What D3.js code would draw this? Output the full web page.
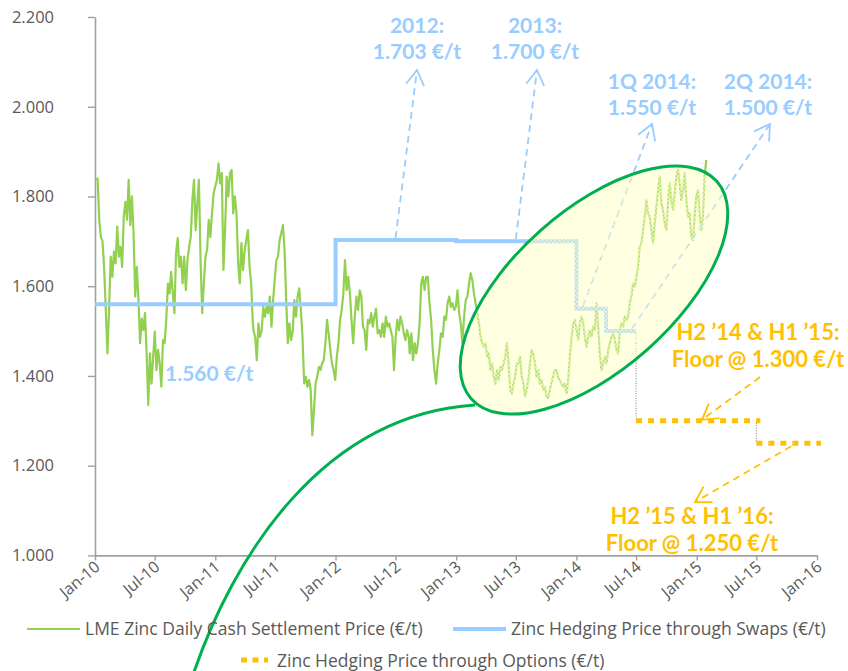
<!DOCTYPE html>
<html>
<head>
<meta charset="utf-8">
<script src="https://cdn.jsdelivr.net/npm/d3@7"></script>
<style>
  body { margin: 0; background: #fff; }
  svg { display: block; font-family: "Open Sans", "Noto Sans", sans-serif; }
</style>
</head>
<body>
<svg id="chart" width="848" height="671"></svg>
<script>
// ---- LME zinc daily cash settlement price (€/t), in four consecutive stretches ----
const lmeStretchA = [1837,1840,1748,1710,1700,1640,1547,1450,1547,1666,1621,1677,1651,1733,1666,1688,1643,1755,1788,1748,
  1837,1736,1800,1718,1577,1643,1569,1473,1528,1502,1540,1450,1335,1450,1383,1443,1499,1413,1458,1428,
  1376,1480,1473,1525,1606,1584,1632,1584,1540,1673,1707,1643,1666,1606,1666,1591,1658,1688,1710,1792,
  1837,1725,1785,1837,1658,1540,1606,1666,1681,1748,1710,1762,1807,1822,1837,1874,1829,1852,1636,1725,
  1844,1800,1852,1859,1762,1800,1762,1651,1606,1696,1636,1681,1703,1725,1643,1606,1517];
const lmeStretchB = [1502,1487,1435,1517,1487,1502,1554,1532,1554,1540,1577,1510,1569,1614,1658,1666,1703,1718,1736,1681,
  1569,1473,1517,1480,1499,1569,1532,1577,1595,1547,1487,1383,1398,1376,1391,1369,1268,1324,1383,1398,
  1420,1413,1428,1435,1473,1525,1495,1458,1428,1413,1391,1443,1473,1525,1547,1584,1658,1591,1621,1584,
  1525,1473,1532,1577,1547,1591,1577,1510,1502,1458,1525,1517,1540,1510,1532,1550,1495,1502,1487,1517,
  1487,1532,1510,1517,1502,1487,1413,1487,1525,1502,1532,1517,1495,1480,1502,1487];
const lmeStretchC = [1450,1495,1435,1473,1450,1473,1517,1606,1621,1591,1621,1621,1562,1525,1458,1413,1383,1428,1458,1495,
  1487,1532,1525,1562,1577,1554,1562,1547,1554,1591,1540,1517,1473,1532,1569,1577,1606,1629,1614,1584,
  1562,1540,1517,1487,1473,1465,1473,1443,1450,1413,1428,1398,1383,1413,1391,1420,1413,1428,1443,1473,
  1428,1369,1361,1383,1398,1428,1428,1443,1398,1383,1354,1369,1391,1428,1458,1450,1428,1398,1413,1383,
  1391,1369,1376,1354,1350,1369,1383,1398,1413,1413,1398,1391,1383,1376,1383];
const lmeStretchD = [1361,1391,1443,1487,1517,1525,1502,1480,1517,1532,1517,1487,1465,1487,1502,1487,1510,1502,1562,1510,
  1450,1413,1428,1443,1428,1458,1473,1487,1495,1480,1458,1450,1502,1517,1510,1532,1525,1532,1562,1577,
  1606,1599,1621,1643,1688,1696,1725,1755,1792,1762,1755,1725,1696,1740,1777,1814,1844,1785,1770,1740,
  1725,1785,1829,1792,1770,1807,1844,1859,1829,1792,1814,1852,1792,1755,1762,1710,1703,1755,1800,1814,
  1762,1725,1755,1844,1881];
// first and last settlement date of each stretch (readings are evenly spaced in between)
const lmeStretchSpans = [["2010-01-04","2011-04-25"],["2011-04-27","2012-08-10"],["2012-08-13","2013-11-26"],["2013-12-02","2015-01-30"]];

// ---- hedging through swaps: price fixed from each date until the next ----
const swapDates  = ["2010-01-01","2012-01-01","2013-01-01","2014-01-01","2014-04-01","2014-07-01"];
const swapPrices = [1560, 1703, 1700, 1550, 1500];

// ---- hedging through options: floor price per period ----
const optionDates  = ["2014-07-01","2015-07-01","2016-01-01"];
const optionFloors = [1300, 1250];

// ---- axes ----
const yTicks = [1000, 1200, 1400, 1600, 1800, 2000, 2200];
const xTickDates = ["2010-01-01","2010-07-01","2011-01-01","2011-07-01","2012-01-01","2012-07-01","2013-01-01",
  "2013-07-01","2014-01-01","2014-07-01","2015-01-01","2015-07-01","2016-01-01"];

const legendLabels = ["LME Zinc Daily Cash Settlement Price (€/t)", "Zinc Hedging Price through Swaps (€/t)",
  "Zinc Hedging Price through Options (€/t)"];

// ---------------------------------------------------------------------------
const parse = d3.utcParse("%Y-%m-%d");
const eu = d3.formatLocale({decimal: ",", thousands: ".", grouping: [3], currency: ["", "€"]});
const fmt = eu.format(",");

const GREEN = "#92D050", BLUE = "#99CCFF", ORANGE = "#FFC000", AXIS = "#A0A0A0", TEXT = "#595959";

const svg = d3.select("#chart");
const x = d3.scaleUtc().domain([parse("2010-01-01"), parse("2016-01-01")]).range([95, 817]);
const y = d3.scaleLinear().domain([1000, 2200]).range([555.4, 17]);

// yellow hatched fill for the highlight ellipse
const defs = svg.append("defs");
const pat = defs.append("pattern").attr("id", "hatch").attr("patternUnits", "userSpaceOnUse")
  .attr("width", 3).attr("height", 3);
pat.append("rect").attr("width", 3).attr("height", 3).attr("fill", "#FFFF99").attr("fill-opacity", 0.32);
pat.append("path").attr("d", "M0,0.5H3M0.5,0V3").attr("stroke", "#FFFFE6").attr("stroke-width", 1).attr("stroke-opacity", 0.55);

// price series
const prices = [];
[lmeStretchA, lmeStretchB, lmeStretchC, lmeStretchD].forEach((vals, i) => {
  const t0 = parse(lmeStretchSpans[i][0]).getTime(), t1 = parse(lmeStretchSpans[i][1]).getTime();
  vals.forEach((v, j) => prices.push({date: new Date(t0 + (t1 - t0) * j / (vals.length - 1)), value: v}));
});

// axes
const yAxis = svg.append("g").attr("transform", "translate(95,0)")
  .call(d3.axisLeft(y).tickValues(yTicks).tickFormat(fmt).tickSize(7).tickSizeOuter(0).tickPadding(34));
const xAxis = svg.append("g").attr("transform", `translate(0,${y(1000)})`)
  .call(d3.axisBottom(x).tickValues(xTickDates.map(parse)).tickFormat(d3.utcFormat("%b-%y")).tickSize(5).tickSizeOuter(0));
[yAxis, xAxis].forEach(g => {
  g.select(".domain").attr("stroke", AXIS).attr("stroke-width", 1.6);
  g.selectAll(".tick line").attr("stroke", AXIS).attr("stroke-width", 1.4);
  g.selectAll("text").attr("fill", TEXT).attr("font-size", 16.5).attr("font-family", "'Open Sans', sans-serif");
});
xAxis.selectAll(".tick text").attr("text-anchor", "end").attr("font-size", 16)
  .attr("transform", "translate(2,9) rotate(-40)").attr("dy", "0.35em").attr("y", 0).attr("x", 0);

// LME price line
svg.append("path").datum(prices).attr("fill", "none").attr("stroke", GREEN).attr("stroke-width", 2.2)
  .attr("stroke-linejoin", "round")
  .attr("d", d3.line().x(d => x(d.date)).y(d => y(d.value)));

// swap hedging price (step)
const swapPts = swapDates.map((d, i) => ({date: parse(d), value: swapPrices[Math.min(i, swapPrices.length - 1)]}));
svg.append("path").datum(swapPts).attr("fill", "none").attr("stroke", BLUE).attr("stroke-width", 4)
  .attr("d", d3.line().curve(d3.curveStepAfter).x(d => x(d.date)).y(d => y(d.value)));

// option floors
const optSegs = optionFloors.map((v, i) => ({from: parse(optionDates[i]), to: parse(optionDates[i + 1]), value: v}));
svg.append("g").selectAll("line").data(optSegs).join("line")
  .attr("x1", d => x(d.from)).attr("x2", d => x(d.to) + 4)
  .attr("y1", d => y(d.value)).attr("y2", d => y(d.value))
  .attr("stroke", ORANGE).attr("stroke-width", 5).attr("stroke-dasharray", "6,6");

// thin dotted connectors between hedging periods
const connectors = [
  {date: parse(optionDates[0]), from: swapPrices[swapPrices.length - 1], to: optionFloors[0]},
  {date: parse(optionDates[1]), from: optionFloors[0], to: optionFloors[1]}
];
svg.append("g").selectAll("line").data(connectors).join("line")
  .attr("x1", d => x(d.date)).attr("x2", d => x(d.date))
  .attr("y1", d => y(d.from) + 2).attr("y2", d => y(d.to) - 2)
  .attr("stroke", "#7F7F7F").attr("stroke-width", 1).attr("stroke-dasharray", "1,1.5");

// dashed callout arrows
function arrow(tail, tip, color) {
  const g = svg.append("g").attr("stroke", color).attr("fill", "none").attr("stroke-width", 1.8);
  g.append("line").attr("x1", tail[0]).attr("y1", tail[1]).attr("x2", tip[0]).attr("y2", tip[1])
    .attr("stroke-dasharray", "7,5");
  const dx = tip[0] - tail[0], dy = tip[1] - tail[1], L = Math.hypot(dx, dy);
  const ux = dx / L, uy = dy / L, len = 15, wid = 9;
  const bx = tip[0] - ux * len, by = tip[1] - uy * len;
  g.append("path").attr("d", `M${bx - uy * wid},${by + ux * wid}L${tip[0]},${tip[1]}L${bx + uy * wid},${by - ux * wid}`);
}
arrow([x(parse("2012-07-01")), y(swapPrices[1]) - 2], [417, 70], BLUE);
arrow([x(parse("2013-07-01")), y(swapPrices[2]) - 2], [537, 70], BLUE);
arrow([x(parse("2014-01-20")), y(swapPrices[3]) - 2], [652, 124], BLUE);
arrow([x(parse("2014-06-18")), y(swapPrices[4]) - 2], [770, 124], BLUE);
arrow([760, 377], [702, y(optionFloors[0]) - 1], ORANGE);
arrow([x(parse("2015-10-15")), y(optionFloors[1]) + 3], [695, 502], ORANGE);

// highlight ellipse and its tail
svg.append("ellipse").attr("cx", 0).attr("cy", 0).attr("rx", 164).attr("ry", 80)
  .attr("transform", "translate(594,290) rotate(-41.5)")
  .attr("fill", "url(#hatch)").attr("stroke", "#00B050").attr("stroke-width", 3);
svg.append("path").attr("d", "M193,675C232,560 320,415 475,405")
  .attr("fill", "none").attr("stroke", "#00B050").attr("stroke-width", 3);

// value labels: one text element per line
function label(lines, cx, y0, color, anchor, size, lead) {
  const fs = size || 21, step = lead || 25.5;
  lines.forEach((s, i) => svg.append("text")
    .attr("font-family", "Lato, 'Open Sans', sans-serif")
    .attr("fill", color).attr("font-weight", 700).attr("font-size", fs)
    .attr("text-anchor", anchor || "middle")
    .attr("x", cx).attr("y", y0 + i * step).text(s));
}
const eur = v => `${fmt(v)} €/t`;
label(["2012:", eur(swapPrices[1])], 417, 33, BLUE);
label(["2013:", eur(swapPrices[2])], 535, 33, BLUE);
label(["1Q 2014:", eur(swapPrices[3])], 652, 89, BLUE);
label(["2Q 2014:", eur(swapPrices[4])], 768, 89, BLUE);
label([eur(swapPrices[0])], 165, 381, BLUE, "start");
label(["H2 \u201914 & H1 \u201915:", `Floor @ ${eur(optionFloors[0])}`], 758, 340, ORANGE, "middle", 22, 27);
label(["H2 \u201915 & H1 \u201916:", `Floor @ ${eur(optionFloors[1])}`], 692, 524, ORANGE, "middle", 22, 27);

// legend
const lg = svg.append("g").attr("font-size", 17.5).attr("fill", TEXT);
lg.append("line").attr("x1", 27).attr("x2", 80).attr("y1", 629).attr("y2", 629).attr("stroke", GREEN).attr("stroke-width", 2);
lg.append("text").attr("x", 85).attr("y", 635).text(legendLabels[0]);
lg.append("line").attr("x1", 453).attr("x2", 506).attr("y1", 629).attr("y2", 629).attr("stroke", BLUE).attr("stroke-width", 4);
lg.append("text").attr("x", 511).attr("y", 635).text(legendLabels[1]);
lg.append("line").attr("x1", 241).attr("x2", 268).attr("y1", 660).attr("y2", 660).attr("stroke", ORANGE)
  .attr("stroke-width", 5).attr("stroke-dasharray", "6,5.5");
lg.append("text").attr("x", 277).attr("y", 667).text(legendLabels[2]);
</script>
</body>
</html>
